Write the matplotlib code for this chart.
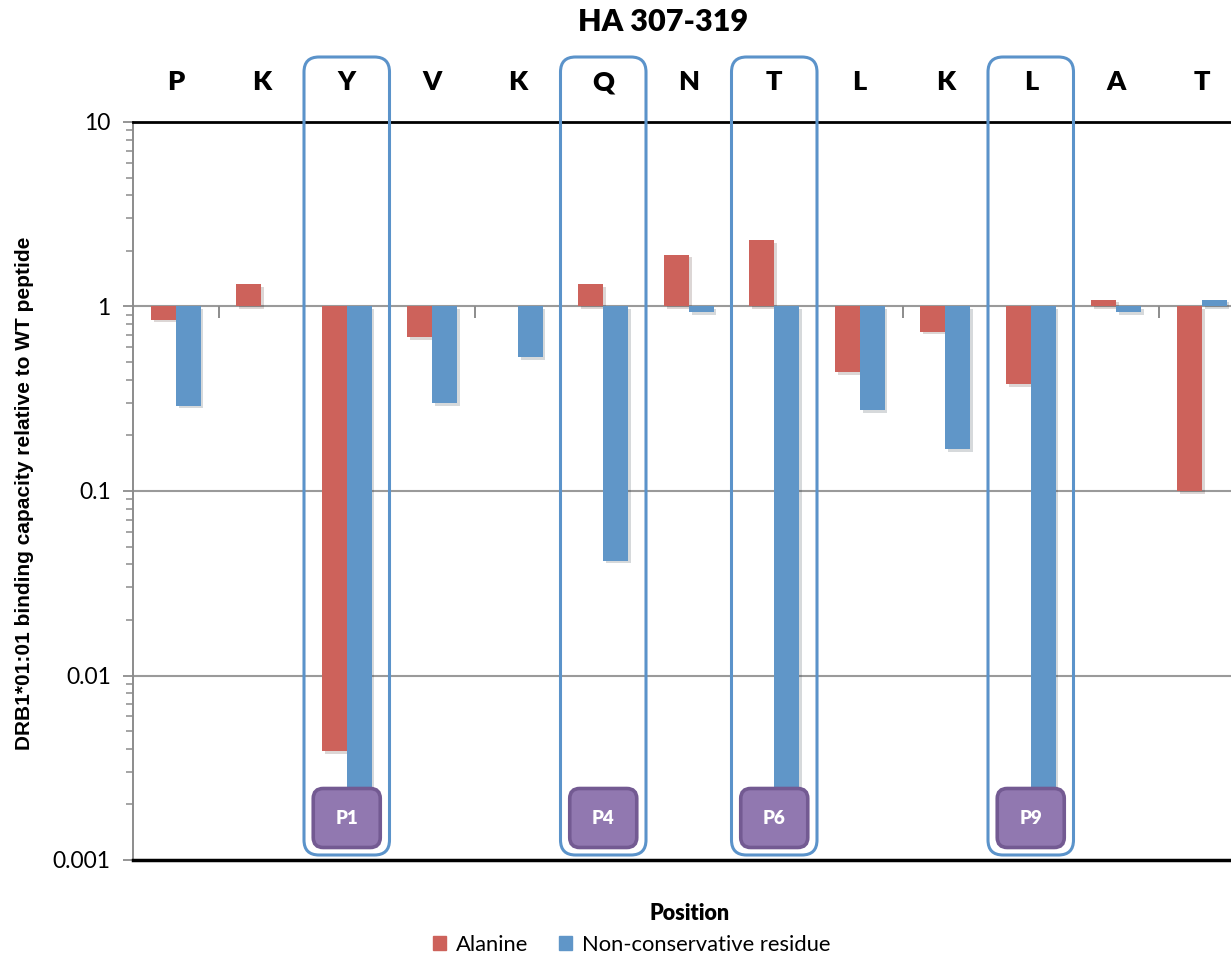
import matplotlib
matplotlib.use("Agg")
import matplotlib.pyplot as plt
import matplotlib.transforms as mtransforms
import matplotlib.patheffects as pe
from matplotlib.patches import FancyBboxPatch, Patch
import numpy as np

# Peptide sequence (HA 307-319) and binding data relative to WT
residues = ["P", "K", "Y", "V", "K", "Q", "N", "T", "L", "K", "L", "A", "T"]
alanine = [0.85, 1.32, 0.0039, 0.68, 1.0, 1.32, 1.91, 2.28, 0.44, 0.73, 0.38, 1.09, 0.10]
nonconservative = [0.29, 1.0, 0.002, 0.30, 0.53, 0.042, 0.93, 0.002, 0.275, 0.168, 0.002, 0.93, 1.09]
anchor_index = [2, 5, 7, 10]
anchor_labels = ["P1", "P4", "P6", "P9"]
y_ticks = [0.001, 0.01, 0.1, 1, 10]
y_tick_labels = ["0.001", "0.01", "0.1", "1", "10"]

RED = "#CD625B"
BLUE = "#6096C8"
BOX_BLUE = "#5B93CA"
PURPLE = "#9178B0"
PURPLE_EDGE = "#735A92"
FONT = ["Lato", "DejaVu Sans"]
ARIAL = ["Liberation Sans", "DejaVu Sans"]
plt.rcParams["font.family"] = FONT

W, H = 1231, 957
fig = plt.figure(figsize=(W / 100, H / 100), dpi=100)
ax = fig.add_axes([133 / W, (H - 860) / H, 1111.5 / W, 738 / H])

x = np.arange(len(residues))
bw = 0.292
shadow = [pe.SimplePatchShadow(offset=(2, -2), alpha=0.18), pe.Normal()]
ax.bar(x - bw / 2, np.array(alanine) - 1, bottom=1, width=bw, color=RED,
       zorder=3, path_effects=shadow)
ax.bar(x + bw / 2, np.array(nonconservative) - 1, bottom=1, width=bw, color=BLUE,
       zorder=3, path_effects=shadow)

ax.set_yscale("log")
ax.set_ylim(0.001, 10)
ax.set_xlim(-0.5, len(residues) - 0.5)
ax.set_yticks(y_ticks)
ax.set_yticklabels(y_tick_labels, fontsize=16.5, family=FONT)
ax.tick_params(axis="y", which="major", length=7, width=1.3, color="#8c8c8c", pad=9)
ax.tick_params(axis="y", which="minor", length=5, width=1.1, color="#8c8c8c")
ax.set_xticks([])

# gridlines at each decade
for v in [0.01, 0.1, 1]:
    ax.axhline(v, color="#9a9a9a", lw=1.5, zorder=1)

# category tick marks hanging from the axis line at 1
ax.vlines(x[:-1] + 0.5, 10 ** (-0.06), 1, color="#8c8c8c", lw=1.4, zorder=1)

ax.spines["right"].set_visible(False)
ax.spines["left"].set_color("#8c8c8c")
ax.spines["left"].set_linewidth(1.4)
ax.spines["top"].set_color("black")
ax.spines["top"].set_linewidth(2)
ax.spines["bottom"].set_color("black")
ax.spines["bottom"].set_linewidth(2.5)

# residue letters above the plot
trans = mtransforms.blended_transform_factory(ax.transData, ax.transAxes)
for i, r in enumerate(residues):
    ax.text(i, 1.054, r, transform=trans, ha="center", va="center",
            fontsize=19.5, fontweight="heavy", family=FONT)

fig.text(663 / W, 1 - 22 / H, "HA 307-319", ha="center", va="center",
         fontsize=22, fontweight="heavy", family=FONT)
fig.text(25 / W, 1 - 493 / H, "DRB1*01:01 binding capacity relative to WT peptide",
         rotation=90, ha="center", va="center",
         fontsize=15, fontweight="bold", family=ARIAL)
fig.text(690 / W, 1 - 914 / H, "Position", ha="center", va="center",
         fontsize=15.5, fontweight="heavy", family=FONT)

handles = [Patch(color=RED, label="Alanine"),
           Patch(color=BLUE, label="Non-conservative residue")]
fig.legend(handles=handles, loc="center", bbox_to_anchor=(632 / W, 1 - 945 / H),
           ncol=2, frameon=False, handlelength=0.6, handleheight=0.6,
           handletextpad=0.45, columnspacing=1.4, prop={"family": FONT, "size": 15.8})

# anchor-position boxes, placed in pixel space from the category positions
fig.canvas.draw()
ident = mtransforms.IdentityTransform()
for i, lab in zip(anchor_index, anchor_labels):
    x0 = ax.transData.transform((i - 0.5, 1))[0]
    x1 = ax.transData.transform((i + 0.5, 1))[0]
    top, bot = H - 57, H - 855
    frame = FancyBboxPatch((x0 + 15, bot + 15), (x1 - x0) - 30, top - bot - 30,
                           boxstyle="round,pad=15", fc="none", ec=BOX_BLUE, lw=2.2,
                           transform=ident, zorder=5)
    fig.add_artist(frame)
    xc = (x0 + x1) / 2
    bw_px, bh_px, yc = 67, 59, H - 818
    tag = FancyBboxPatch((xc - bw_px / 2 + 10, yc - bh_px / 2 + 10), bw_px - 20, bh_px - 20,
                         boxstyle="round,pad=10", fc=PURPLE, ec=PURPLE_EDGE, lw=2.6,
                         transform=ident, zorder=6)
    fig.add_artist(tag)
    fig.text(xc / W, yc / H, lab, ha="center", va="center", color="white",
             fontsize=13.5, fontweight="heavy", family=FONT, zorder=7)

fig.savefig("out.png", dpi=100)
